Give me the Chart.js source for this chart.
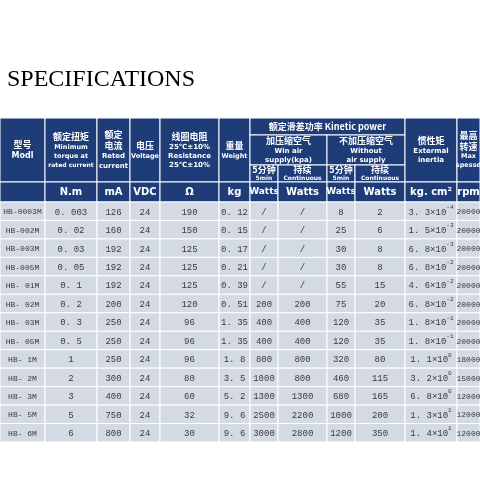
<!DOCTYPE html>
<html>
<head>
<meta charset="utf-8">
<script src="https://cdn.jsdelivr.net/npm/chart.js@4/dist/chart.umd.min.js"></script>
<style>
  body { margin: 0; background: #fff; }
</style>
</head>
<body>
<canvas id="table" width="480" height="480"></canvas>
<script>
// table data
var models = ['HB-0003M','HB-002M','HB-003M','HB-005M','HB- 01M','HB- 02M','HB- 03M','HB- 05M','HB- 1M','HB- 2M','HB- 3M','HB- 5M','HB- 6M'];
var torque = ['0. 003','0. 02','0. 03','0. 05','0. 1','0. 2','0. 3','0. 5','1','2','3','5','6'];
var current = ['126','160','192','192','192','200','250','250','250','300','400','750','800'];
var voltage = ['24','24','24','24','24','24','24','24','24','24','24','24','24'];
var resistance = ['190','150','125','125','125','120','96','96','96','80','60','32','30'];
var weight = ['0. 12','0. 15','0. 17','0. 21','0. 39','0. 51','1. 35','1. 35','1. 8','3. 5','5. 2','9. 6','9. 6'];
var win5 = ['/','/','/','/','/','200','400','400','800','1000','1300','2500','3000'];
var winCont = ['/','/','/','/','/','200','400','400','800','800','1300','2200','2800'];
var wo5 = ['8','25','30','30','55','75','120','120','320','460','680','1000','1200'];
var woCont = ['2','6','8','8','15','20','35','35','80','115','165','200','350'];
var inertiaMant = ['3. 3','1. 5','6. 8','6. 8','4. 6','6. 8','1. 8','1. 8','1. 1','3. 2','6. 8','1. 3','1. 4'];
var inertiaExp = ['-4','-3','-3','-2','-2','-2','-1','-1','0','0','0','1','1'];
var speed = ['20000','20000','20000','20000','20000','20000','20000','20000','18000','15000','12000','12000','12000'];
var units = ['', 'N.m', 'mA', 'VDC', 'Ω', 'kg', 'Watts', 'Watts', 'Watts', 'Watts', 'kg. cm²', 'rpm'];

// layout (pixel units on the hidden scales)
var colEdges = [0, 45, 97, 130, 160, 219, 250, 278, 327, 355, 405, 457, 480];
var headTop = 118, headBottom = 182, unitBottom = 202, tableBottom = 442;

var navy = '#1d3c78';
var cellBg = '#d4dae3';

function cell(ctx, x, y, x1, x2, y1, y2, bg) {
  var a = x.getPixelForValue(x1), b = x.getPixelForValue(x2);
  var c = y.getPixelForValue(y1), d = y.getPixelForValue(y2);
  ctx.fillStyle = bg;
  ctx.fillRect(a, c, b - a, d - c);
  ctx.strokeStyle = '#ffffff';
  ctx.lineWidth = 1;
  ctx.strokeRect(a, c, b - a, d - c);
  return { cx: (a + b) / 2, cy: (c + d) / 2 };
}

// lines: [text, font, height]
function lines(ctx, p, list, color) {
  var lh = list.map(function (l) { return l[2] || 9; });
  var total = lh.reduce(function (s, v) { return s + v; }, 0);
  var yy = p.cy - total / 2;
  ctx.fillStyle = color;
  ctx.textAlign = 'center';
  ctx.textBaseline = 'middle';
  list.forEach(function (l, i) {
    ctx.font = l[1];
    ctx.fillText(l[0], p.cx, yy + lh[i] / 2);
    yy += lh[i];
  });
}

var cn = 'bold 9px "Noto Sans CJK SC"';
var en = 'bold 7px "DejaVu Sans"';
var ensm = 'bold 6.5px "DejaVu Sans"';

var tablePlugin = {
  id: 'specTable',
  afterDraw: function (chart) {
    var ctx = chart.ctx, x = chart.scales.x, y = chart.scales.y;
    ctx.save();
    ctx.fillStyle = '#000';
    ctx.font = '24px "Liberation Serif"';
    ctx.textAlign = 'left';
    ctx.textBaseline = 'middle';
    ctx.fillText('SPECIFICATIONS', x.getPixelForValue(7), y.getPixelForValue(80));

    var E = colEdges, W = '#ffffff';
    lines(ctx, cell(ctx, x, y, E[0], E[1], headTop, headBottom, navy), [['型号', cn, 12], ['Modl', 'bold 8px "DejaVu Sans"', 11]], W);
    lines(ctx, cell(ctx, x, y, E[1], E[2], headTop, headBottom, navy), [['额定扭矩', cn, 12], ['Minimum', ensm], ['torque at', ensm], ['rated current', 'bold 6px "DejaVu Sans"']], W);
    lines(ctx, cell(ctx, x, y, E[2], E[3], headTop, headBottom, navy), [['额定', cn, 11], ['电流', cn, 11], ['Reted', en, 10], ['current', en, 10]], W);
    lines(ctx, cell(ctx, x, y, E[3], E[4], headTop, headBottom, navy), [['电压', cn, 12], ['Voltage', ensm]], W);
    lines(ctx, cell(ctx, x, y, E[4], E[5], headTop, headBottom, navy), [['线圈电阻', cn, 12], ['25℃±10%', en], ['Resistance', en], ['25℃±10%', en]], W);
    lines(ctx, cell(ctx, x, y, E[5], E[6], headTop, headBottom, navy), [['重量', cn, 12], ['Weight', ensm]], W);
    lines(ctx, cell(ctx, x, y, E[6], E[10], headTop, 135, navy), [['额定滑差功率 Kinetic power', 'bold 9px "Noto Sans CJK SC"', 10]], W);
    lines(ctx, cell(ctx, x, y, E[6], E[8], 135, 165, navy), [['加压缩空气', cn, 11], ['Win air', en], ['supply(kpa)', en]], W);
    lines(ctx, cell(ctx, x, y, E[8], E[10], 135, 165, navy), [['不加压缩空气', cn, 11], ['Without', en], ['air supply', en]], W);
    [6, 8].forEach(function (k) {
      lines(ctx, cell(ctx, x, y, E[k], E[k + 1], 165, headBottom, navy), [['5分钟', cn, 9], ['5min', 'bold 6px "DejaVu Sans"', 7]], W);
      lines(ctx, cell(ctx, x, y, E[k + 1], E[k + 2], 165, headBottom, navy), [['持续', cn, 9], ['Continuous', 'bold 6px "DejaVu Sans"', 7]], W);
    });
    lines(ctx, cell(ctx, x, y, E[10], E[11], headTop, headBottom, navy), [['惯性矩', cn, 12], ['Extermal', en], ['inertia', en]], W);
    lines(ctx, cell(ctx, x, y, E[11], E[12], headTop, headBottom, navy), [['最高', cn, 11], ['转速', cn, 11], ['Max', ensm], ['spessd', ensm]], W);

    units.forEach(function (u, i) {
      var f = (i === 6 || i === 8) ? 'bold 9px "DejaVu Sans"' : 'bold 10px "DejaVu Sans"';
      lines(ctx, cell(ctx, x, y, E[i], E[i + 1], headBottom, unitBottom, navy), [[u, f, 12]], W);
    });

    var cols = [models, torque, current, voltage, resistance, weight, win5, winCont, wo5, woCont, null, speed];
    var rh = (tableBottom - unitBottom) / models.length;
    for (var r = 0; r < models.length; r++) {
      var y1 = unitBottom + r * rh, y2 = y1 + rh;
      for (var c = 0; c < cols.length; c++) {
        var p = cell(ctx, x, y, E[c], E[c + 1], y1, y2, cellBg);
        ctx.fillStyle = '#3a3a3a';
        ctx.textBaseline = 'middle';
        if (c === 10) {
          ctx.font = '9px "Liberation Mono"';
          var base = inertiaMant[r] + '×10';
          var wb = ctx.measureText(base).width;
          ctx.font = '6px "Liberation Mono"';
          var we = ctx.measureText(inertiaExp[r]).width;
          var sx = p.cx - (wb + we) / 2;
          ctx.textAlign = 'left';
          ctx.font = '9px "Liberation Mono"';
          ctx.fillText(base, sx, p.cy + 1);
          ctx.font = '6px "Liberation Mono"';
          ctx.fillText(inertiaExp[r], sx + wb, p.cy - 4);
        } else {
          ctx.textAlign = 'center';
          ctx.font = (c === 0 || c === 11 ? '8px' : '9px') + ' "Liberation Mono"';
          ctx.fillText(cols[c][r], p.cx, p.cy + 1);
        }
      }
    }
    ctx.restore();
  }
};

new Chart(document.getElementById('table'), {
  type: 'scatter',
  data: { datasets: [{ data: [], pointRadius: 0 }] },
  options: {
    responsive: false,
    animation: false,
    layout: { padding: 0 },
    plugins: { legend: { display: false }, tooltip: { enabled: false } },
    scales: {
      x: { type: 'linear', min: 0, max: 480, display: false },
      y: { type: 'linear', min: 0, max: 480, reverse: true, display: false }
    }
  },
  plugins: [tablePlugin]
});
</script>
</body>
</html>
